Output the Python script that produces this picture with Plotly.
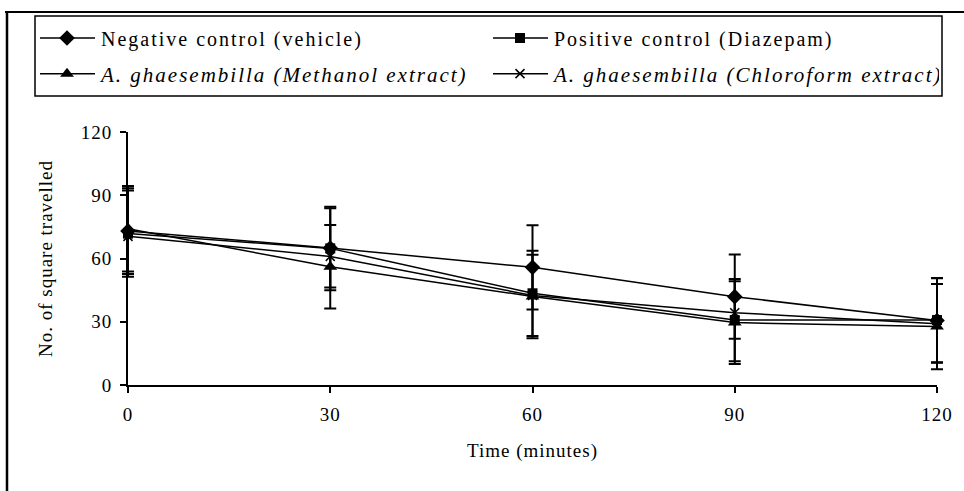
import plotly.graph_objects as go

time_min = [0, 30, 60, 90, 120]

neg_name = "Negative control (vehicle)"
neg_vals = [73.0, 65.0, 55.8, 41.9, 30.6]
neg_err = [20.3, 18.8, 20.0, 20.0, 20.0]

pos_name = "Positive control (Diazepam)"
pos_vals = [71.8, 64.8, 43.5, 30.8, 30.8]
pos_err = [20.4, 19.8, 20.2, 19.5, 20.0]

meth_name = "<i>A. ghaesembilla (Methanol extract)</i>"
meth_vals = [74.1, 56.1, 42.0, 29.6, 27.7]
meth_err = [20.3, 19.8, 19.8, 19.6, 20.2]

chlor_name = "<i>A. ghaesembilla (Chloroform extract)</i>"
chlor_vals = [70.5, 61.0, 42.5, 34.3, 29.0]

y_ticks = [0, 30, 60, 90, 120]
x_ticks = [0, 30, 60, 90, 120]

FONT = "Liberation Serif"
FS = 19
W, H = 964, 491
PAD = 8                      # extra room so error-bar caps at the ends are not clipped
AX_L, AX_R = 128, 937        # pixel position of x = 0 and x = 120
ML, MR, MT, MB = AX_L - PAD, W - AX_R - PAD, 132, 106
PW, PH = W - ML - MR, H - MT - MB
FRAC = PAD / PW
EXT = 120 * PAD / (AX_R - AX_L)


def px_x(p):
    return (p - ML) / PW


def px_y(p):
    return (H - MB - p) / PH


def err(vals):
    return dict(type="data", array=vals, visible=True, color="black", thickness=2, width=6)


series = [
    (neg_name, neg_vals, neg_err, dict(symbol="diamond", size=12), "legend"),
    (pos_name, pos_vals, pos_err, dict(symbol="square", size=10), "legend"),
    (meth_name, meth_vals, meth_err, dict(symbol="triangle-up", size=12), "legend2"),
    (chlor_name, chlor_vals, None, dict(symbol="x-thin", size=9,
                                        line=dict(color="black", width=1.5)), "legend2"),
]

fig = go.Figure()
for name, vals, e, mk, lg in series:
    fig.add_trace(go.Scatter(x=time_min, y=vals, name=name, mode="lines+markers",
                             line=dict(color="black", width=1.5), legend=lg,
                             marker=dict(color="black", **mk), cliponaxis=False))
# error bars on a hidden, slightly wider x axis with identical scale (avoids clipping caps)
for name, vals, e, mk, lg in series:
    if e is None:
        continue
    fig.add_trace(go.Scatter(x=time_min, y=vals, mode="markers", xaxis="x2", yaxis="y",
                             marker=dict(size=1, opacity=0, color="black"),
                             error_y=err(e), showlegend=False, hoverinfo="skip"))

# outer frame lines (decoration)
fig.add_shape(type="line", xref="paper", yref="paper",
              x0=px_x(5), x1=px_x(964), y0=px_y(12), y1=px_y(12),
              line=dict(color="black", width=2))
fig.add_shape(type="line", xref="paper", yref="paper",
              x0=px_x(7), x1=px_x(7), y0=px_y(12), y1=px_y(491),
              line=dict(color="black", width=2.5))
# legend frame
fig.add_shape(type="rect", xref="paper", yref="paper",
              x0=px_x(35), x1=px_x(942), y0=px_y(16), y1=px_y(96),
              line=dict(color="black", width=1.5))

leg_common = dict(orientation="h", xanchor="left", yanchor="middle",
                  entrywidth=380, entrywidthmode="pixels",
                  borderwidth=0, bgcolor="rgba(0,0,0,0)", itemwidth=58)

fig.update_layout(
    width=W, height=H,
    margin=dict(l=ML, r=MR, t=MT, b=MB, autoexpand=False),
    paper_bgcolor="white", plot_bgcolor="rgba(0,0,0,0)",
    font=dict(family=FONT, size=FS, color="black"),
    showlegend=True,
    legend=dict(x=px_x(33), y=px_y(38), font=dict(family=FONT, size=20, color="black"),
                **leg_common),
    legend2=dict(x=px_x(33), y=px_y(74), font=dict(family=FONT, size=21, color="black"),
                 **leg_common),
    xaxis=dict(
        domain=[FRAC, 1 - FRAC],
        range=[0, 120], tickvals=x_ticks, ticks="outside", ticklen=6, tickwidth=1.5,
        tickcolor="black", showline=True, linecolor="black", linewidth=2,
        showgrid=False, zeroline=False, ticklabelstandoff=5,
        tickfont=dict(family=FONT, size=FS),
        title=dict(text="Time (minutes)", standoff=20, font=dict(family=FONT, size=FS)),
    ),
    xaxis2=dict(domain=[0, 1], range=[-EXT, 120 + EXT], anchor="y",
                visible=False, showgrid=False, zeroline=False),
    yaxis=dict(
        range=[0, 120], tickvals=y_ticks, ticks="outside", ticklen=6, tickwidth=1.5,
        tickcolor="black", showline=True, linecolor="black", linewidth=2,
        showgrid=False, zeroline=False, ticklabelstandoff=4, anchor="x",
        tickfont=dict(family=FONT, size=FS),
        title=dict(text="No. of square travelled", standoff=26, font=dict(family=FONT, size=FS)),
    ),
)

post = """
document.body.style.margin = '0';
document.querySelectorAll('.main-svg text').forEach(function(t){
  t.style.letterSpacing = '1px';
});
document.querySelectorAll('.legend text, .legend2 text').forEach(function(t){
  t.style.letterSpacing = '2px';
});
document.querySelectorAll('.legendlines path').forEach(function(p){
  p.setAttribute('d', 'M7,0h55');
});
document.querySelectorAll('.legendpoints path').forEach(function(p){
  p.setAttribute('transform', 'translate(34,0)');
});
"""
fig.write_html("out.html", post_script=post, config={"displayModeBar": False})
